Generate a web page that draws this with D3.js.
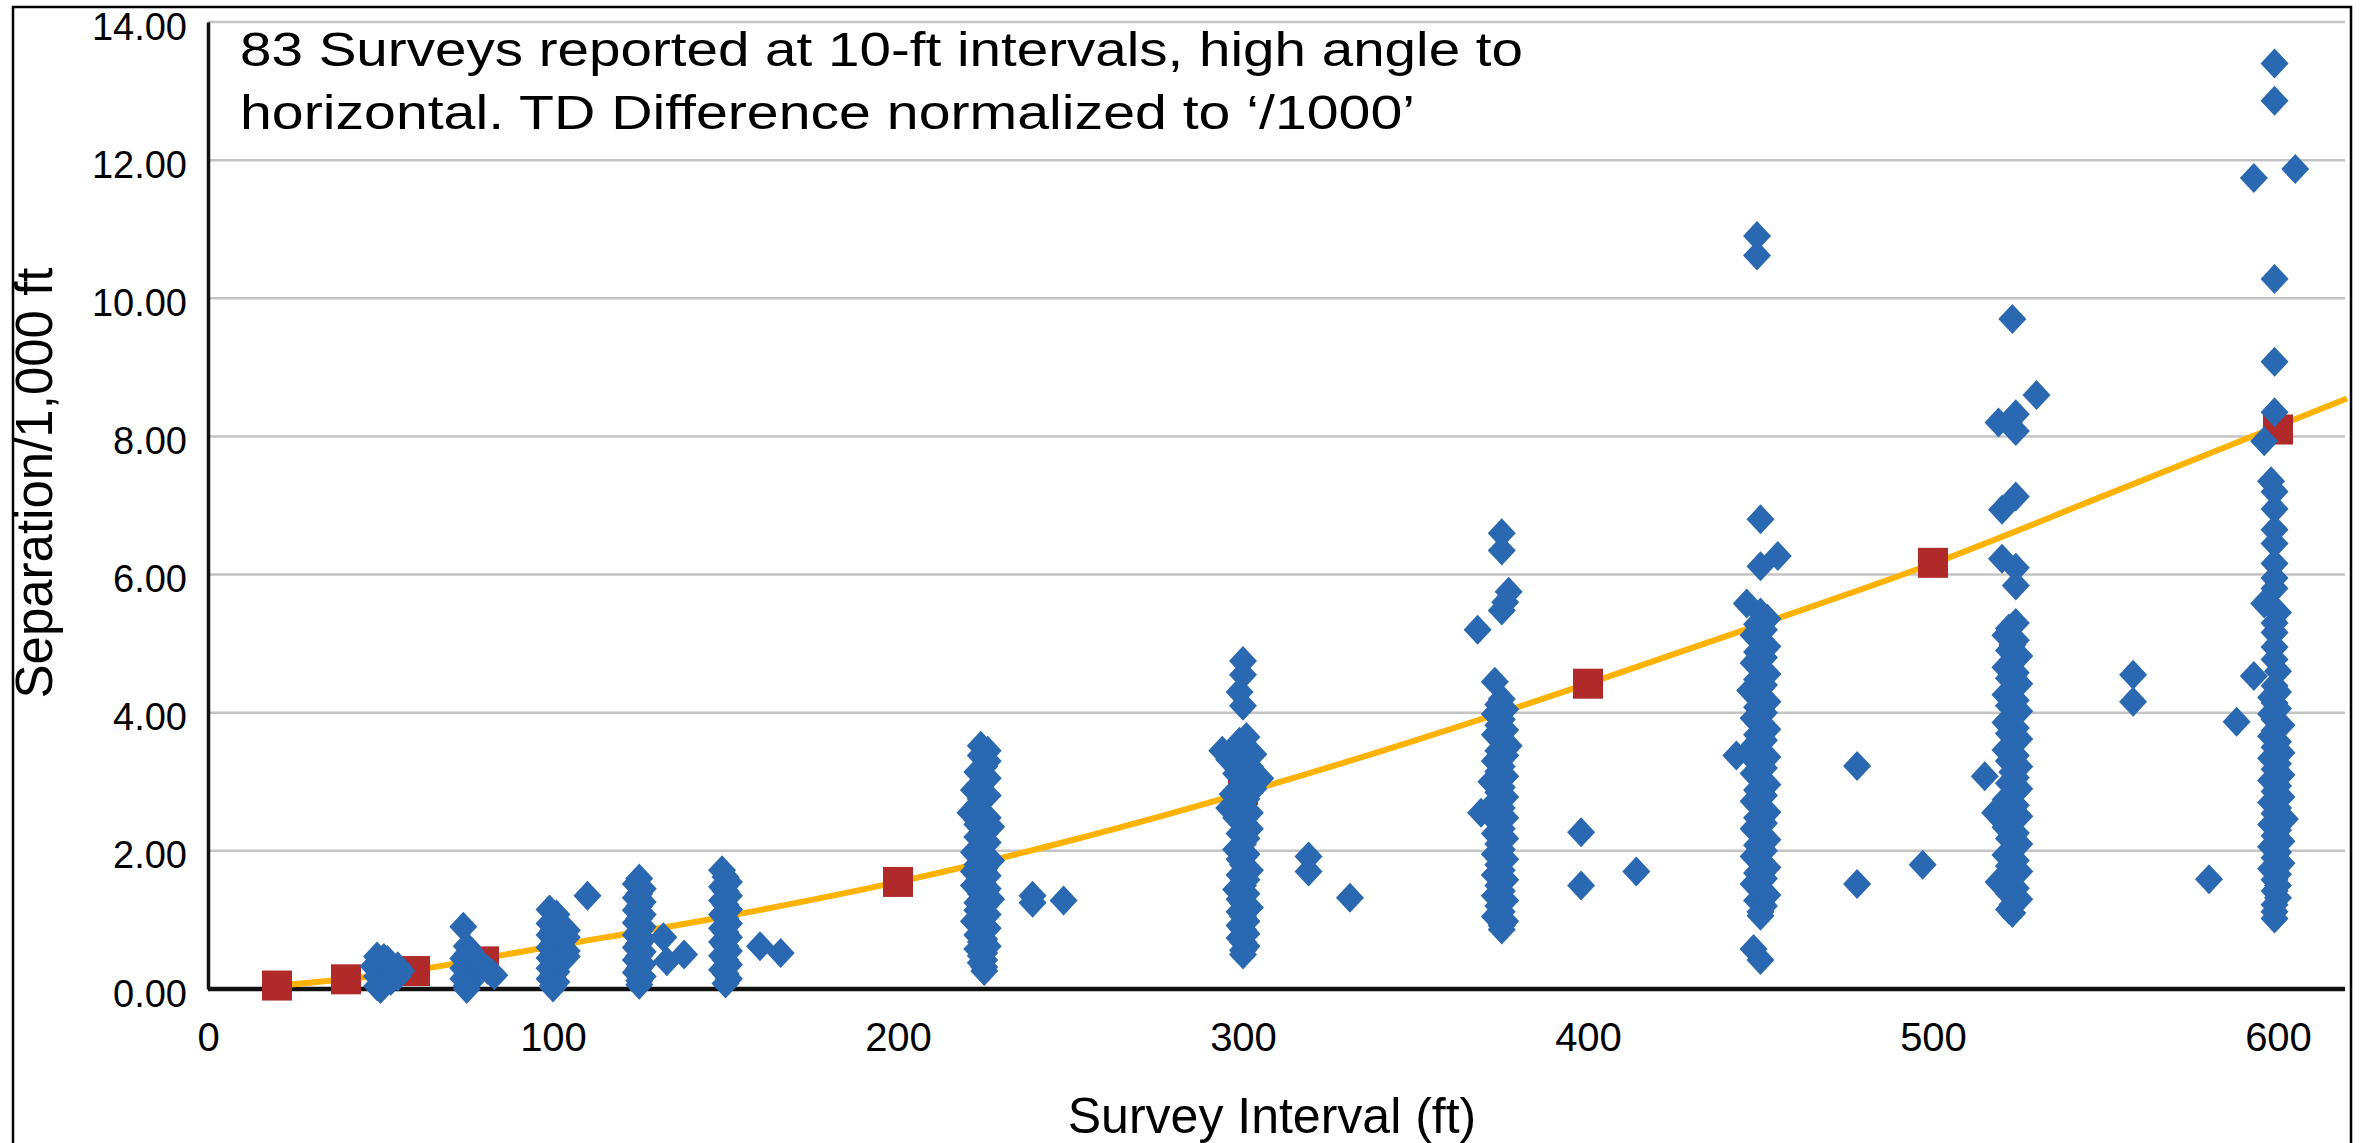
<!DOCTYPE html>
<html>
<head>
<meta charset="utf-8">
<script src="https://cdnjs.cloudflare.com/ajax/libs/d3/7.8.5/d3.min.js"></script>
<style>
  body { margin: 0; background: #fff; }
  text { font-family: "Liberation Sans", Arial, sans-serif; fill: #000; }
</style>
</head>
<body>
<svg id="chart" width="2366" height="1143"></svg>
<script>
// tick labels
var xTicks = [0, 100, 200, 300, 400, 500, 600];
var yTicks = [0, 2, 4, 6, 8, 10, 12, 14];

// survey separations, [interval ft, separation /1000 ft]
var at50 = [[49, 0.47], [51, 0.45], [50, 0.38], [48, 0.33], [51, 0.28], [50, 0.22], [49, 0.18], [51, 0.12], [50, 0.08], [49, 0.04], [50, 0.0], [52, 0.42], [53, 0.36], [53, 0.3], [54, 0.22], [53, 0.12], [55, 0.33], [56, 0.26], [55, 0.18]];
var at75 = [[74, 0.9], [75, 0.62], [76, 0.55], [75, 0.5], [74, 0.44], [76, 0.4], [75, 0.34], [74, 0.3], [76, 0.25], [75, 0.2], [74, 0.15], [76, 0.1], [75, 0.05], [75, 0.0], [77, 0.45], [78, 0.4], [79, 0.36], [80, 0.32], [81, 0.28], [82, 0.24], [83, 0.2]];
var at100 = [[99, 1.15], [101, 1.08], [100, 1.0], [99, 0.95], [101, 0.9], [100, 0.84], [99, 0.78], [101, 0.72], [100, 0.66], [99, 0.6], [101, 0.55], [100, 0.5], [99, 0.45], [101, 0.4], [100, 0.35], [99, 0.3], [101, 0.25], [100, 0.2], [99, 0.15], [101, 0.1], [100, 0.05], [100, 0.02], [104, 0.85], [104, 0.75], [104, 0.55], [104, 0.47], [110, 1.35]];
var at125 = [[125, 1.6], [124, 1.52], [126, 1.45], [125, 1.38], [124, 1.32], [126, 1.26], [125, 1.2], [124, 1.14], [126, 1.08], [125, 1.02], [124, 0.96], [126, 0.9], [125, 0.84], [124, 0.78], [126, 0.72], [125, 0.66], [124, 0.6], [126, 0.54], [125, 0.48], [124, 0.42], [126, 0.36], [125, 0.3], [124, 0.24], [126, 0.18], [125, 0.12], [125, 0.06], [132, 0.75], [133, 0.4], [138, 0.5]];
var at150 = [[149, 1.72], [150, 1.62], [151, 1.55], [149, 1.48], [150, 1.42], [151, 1.35], [149, 1.28], [150, 1.22], [151, 1.15], [149, 1.08], [150, 1.02], [151, 0.95], [149, 0.88], [150, 0.82], [151, 0.75], [149, 0.68], [150, 0.62], [151, 0.55], [149, 0.48], [150, 0.42], [151, 0.35], [149, 0.28], [150, 0.22], [151, 0.15], [150, 0.08], [160, 0.62], [166, 0.52]];
var at225 = [[224, 3.52], [226, 3.45], [224, 3.38], [226, 3.3], [225, 3.22], [223, 3.14], [226, 3.05], [224, 2.97], [222, 2.88], [226, 2.8], [224, 2.75], [223, 2.66], [221, 2.55], [226, 2.48], [224, 2.45], [223, 2.38], [227, 2.35], [225, 2.28], [223, 2.2], [226, 2.12], [224, 2.05], [222, 1.98], [225, 1.92], [227, 1.86], [223, 1.8], [225, 1.74], [222, 1.7], [226, 1.64], [224, 1.58], [222, 1.5], [226, 1.45], [224, 1.38], [227, 1.3], [223, 1.25], [225, 1.2], [223, 1.14], [226, 1.08], [224, 1.02], [222, 0.98], [225, 0.92], [226, 0.88], [224, 0.82], [223, 0.78], [225, 0.72], [224, 0.68], [226, 0.62], [223, 0.58], [225, 0.52], [224, 0.48], [225, 0.42], [224, 0.38], [225, 0.32], [225, 0.26], [239, 1.35], [239, 1.25], [248, 1.28]];
var at300 = [[300, 4.75], [300, 4.55], [299, 4.3], [300, 4.1], [301, 3.65], [299, 3.58], [294, 3.45], [300, 3.5], [303, 3.4], [296, 3.32], [302, 3.22], [305, 3.05], [298, 3.12], [300, 2.98], [303, 2.9], [297, 2.82], [301, 2.75], [296, 2.62], [299, 2.68], [302, 2.55], [298, 2.48], [300, 2.4], [302, 2.32], [299, 2.25], [301, 2.18], [300, 2.1], [298, 2.02], [301, 1.95], [299, 1.88], [300, 1.8], [302, 1.72], [299, 1.65], [301, 1.58], [300, 1.5], [298, 1.44], [301, 1.38], [299, 1.3], [300, 1.24], [302, 1.18], [299, 1.12], [300, 1.05], [301, 0.98], [299, 0.92], [300, 0.86], [301, 0.8], [299, 0.74], [300, 0.68], [301, 0.62], [300, 0.56], [300, 0.5], [319, 1.92], [319, 1.7], [331, 1.32]];
var at375 = [[375, 6.6], [375, 6.35], [377, 5.75], [376, 5.6], [375, 5.48], [368, 5.2], [373, 4.45], [375, 4.2], [374, 4.12], [376, 4.05], [373, 3.98], [375, 3.9], [374, 3.82], [376, 3.75], [373, 3.68], [375, 3.6], [377, 3.52], [374, 3.45], [376, 3.38], [373, 3.3], [375, 3.22], [374, 3.15], [376, 3.08], [372, 3.0], [375, 2.92], [374, 2.85], [376, 2.78], [373, 2.7], [369, 2.55], [375, 2.62], [376, 2.48], [374, 2.4], [375, 2.32], [373, 2.25], [376, 2.18], [374, 2.1], [375, 2.02], [373, 1.95], [376, 1.88], [374, 1.8], [375, 1.72], [373, 1.65], [376, 1.58], [374, 1.5], [375, 1.42], [373, 1.35], [376, 1.28], [374, 1.2], [375, 1.12], [373, 1.05], [376, 0.98], [375, 0.92], [375, 0.86], [398, 2.27], [398, 1.5]];
var at450 = [[449, 10.9], [449, 10.62], [450, 6.8], [455, 6.27], [450, 6.12], [446, 5.58], [450, 5.45], [452, 5.36], [449, 5.28], [451, 5.2], [448, 5.12], [450, 5.04], [452, 4.96], [449, 4.88], [451, 4.8], [448, 4.72], [450, 4.64], [452, 4.56], [449, 4.48], [451, 4.4], [447, 4.32], [450, 4.24], [452, 4.16], [449, 4.08], [451, 4.0], [448, 3.92], [450, 3.84], [452, 3.76], [449, 3.68], [451, 3.6], [448, 3.52], [450, 3.45], [443, 3.38], [452, 3.36], [449, 3.28], [451, 3.2], [448, 3.12], [450, 3.04], [452, 2.96], [449, 2.88], [451, 2.8], [448, 2.72], [450, 2.64], [452, 2.56], [449, 2.48], [451, 2.4], [448, 2.32], [450, 2.24], [452, 2.16], [449, 2.08], [451, 2.0], [448, 1.92], [450, 1.84], [452, 1.76], [449, 1.68], [451, 1.6], [448, 1.52], [450, 1.44], [452, 1.36], [449, 1.28], [451, 1.2], [450, 1.12], [450, 1.06], [448, 0.58], [450, 0.42], [414, 1.7], [478, 3.23], [478, 1.52], [497, 1.8]];
var at525 = [[523, 9.7], [530, 8.6], [524, 8.32], [519, 8.2], [524, 8.08], [524, 7.13], [520, 6.94], [520, 6.23], [524, 6.1], [524, 5.84], [524, 5.3], [522, 5.22], [521, 5.12], [524, 5.05], [523, 4.98], [522, 4.9], [525, 4.82], [523, 4.74], [521, 4.66], [524, 4.58], [522, 4.5], [525, 4.42], [523, 4.34], [521, 4.26], [524, 4.18], [522, 4.1], [525, 4.02], [523, 3.94], [521, 3.86], [524, 3.78], [522, 3.7], [525, 3.62], [523, 3.54], [521, 3.46], [524, 3.38], [522, 3.3], [525, 3.22], [523, 3.14], [515, 3.08], [524, 3.06], [522, 2.98], [525, 2.9], [523, 2.82], [521, 2.74], [524, 2.66], [518, 2.55], [522, 2.58], [525, 2.5], [523, 2.42], [521, 2.34], [524, 2.26], [522, 2.18], [525, 2.1], [523, 2.02], [521, 1.94], [524, 1.86], [522, 1.78], [525, 1.7], [523, 1.62], [519, 1.55], [521, 1.54], [524, 1.46], [522, 1.38], [525, 1.3], [523, 1.22], [522, 1.15], [523, 1.1], [558, 4.55], [558, 4.16], [580, 1.59], [588, 3.87]];
var at600 = [[599, 13.4], [599, 12.86], [593, 11.74], [605, 11.87], [599, 10.28], [599, 9.08], [599, 8.35], [596, 7.93], [598, 7.35], [599, 7.2], [599, 6.95], [599, 6.65], [599, 6.45], [599, 6.16], [599, 5.95], [599, 5.8], [596, 5.58], [600, 5.45], [599, 5.3], [599, 5.16], [599, 4.95], [599, 4.77], [600, 4.6], [593, 4.53], [599, 4.39], [600, 4.3], [598, 4.22], [599, 4.14], [600, 4.06], [598, 3.98], [599, 3.9], [601, 3.82], [599, 3.74], [598, 3.66], [600, 3.58], [599, 3.5], [601, 3.42], [598, 3.34], [600, 3.26], [599, 3.18], [601, 3.1], [598, 3.02], [600, 2.94], [599, 2.86], [601, 2.78], [598, 2.7], [600, 2.62], [599, 2.54], [602, 2.46], [598, 2.38], [600, 2.3], [599, 2.22], [601, 2.14], [598, 2.06], [600, 1.98], [599, 1.9], [601, 1.82], [598, 1.74], [600, 1.66], [599, 1.58], [600, 1.5], [599, 1.42], [600, 1.32], [599, 1.22], [599, 1.12], [599, 1.02]];

// red squares (averages per interval)
var avgX = [20, 40, 60, 80, 200, 300, 400, 500, 600];
var avgY = [0.05, 0.14, 0.26, 0.4, 1.55, 2.88, 4.42, 6.17, 8.1];

// orange trend line, read at these intervals
var trendX = [20, 50, 100, 150, 200, 250, 300, 350, 400, 450, 500, 550, 600, 620];
var trendY = [0.05, 0.2, 0.62, 1.05, 1.55, 2.15, 2.84, 3.6, 4.42, 5.28, 6.16, 7.15, 8.15, 8.55];

var noteLines = ["83 Surveys reported at 10-ft intervals, high angle to",
                 "horizontal. TD Difference normalized to \u2018/1000\u2019"];

var svg = d3.select('#chart');

var x = d3.scaleLinear().domain([0, 620]).range([208, 2347]);
var y = d3.scaleLinear().domain([0, 14]).range([989, 22]);

// outer frame
svg.append('rect')
    .attr('x', 13).attr('y', 7)
    .attr('width', 2338).attr('height', 1160)
    .attr('fill', 'none').attr('stroke', '#000').attr('stroke-width', 2.5);

// gridlines
svg.append('g')
    .selectAll('line')
    .data(yTicks.slice(1))
    .enter()
    .append('line')
    .attr('x1', 208).attr('x2', 2345)
    .attr('y1', function (d) { return y(d); })
    .attr('y2', function (d) { return y(d); })
    .attr('stroke', '#c4c4c4')
    .attr('stroke-width', 2.5);

// y axis
var yAxis = svg.append('g')
    .attr('transform', 'translate(208,0)')
    .call(d3.axisLeft(y).tickValues(yTicks).tickFormat(d3.format('.2f')).tickSize(0).tickPadding(21));
yAxis.select('.domain').attr('stroke', '#111').attr('stroke-width', 3.5);
yAxis.selectAll('text')
    .style('font-family', '"Liberation Sans", Arial, sans-serif')
    .style('font-size', '38px')
    .attr('fill', '#111')
    .attr('dy', '0.45em');

// x axis
var xAxis = svg.append('g')
    .attr('transform', 'translate(0,' + y(0) + ')')
    .call(d3.axisBottom(x).tickValues(xTicks).tickSize(0).tickPadding(34));
xAxis.select('.domain').attr('stroke', '#111').attr('stroke-width', 4.5)
    .attr('d', 'M208,0H2345');
xAxis.selectAll('text')
    .style('font-family', '"Liberation Sans", Arial, sans-serif')
    .style('font-size', '40px')
    .attr('fill', '#111');
yAxis.raise();

// trend line
var trend = trendX.map(function (d, i) { return [d, trendY[i]]; });
svg.append('path')
    .datum(trend)
    .attr('fill', 'none')
    .attr('stroke', '#ffb300')
    .attr('stroke-width', 6)
    .attr('d', d3.line()
        .x(function (d) { return x(d[0]); })
        .y(function (d) { return y(d[1]); })
        .curve(d3.curveMonotoneX));

// averages
svg.append('g')
    .selectAll('rect')
    .data(avgX)
    .enter()
    .append('rect')
    .attr('x', function (d) { return x(d) - 15; })
    .attr('y', function (d, i) { return y(avgY[i]) - 15; })
    .attr('width', 30).attr('height', 30)
    .attr('fill', '#b12a2a');

// surveys
var surveys = [].concat(at50, at75, at100, at125, at150, at225, at300, at375, at450, at525, at600);
svg.append('g')
    .selectAll('path')
    .data(surveys)
    .enter()
    .append('path')
    .attr('d', 'M0,-15L14,0L0,15L-14,0Z')
    .attr('transform', function (d) { return 'translate(' + x(d[0]) + ',' + y(d[1]) + ')'; })
    .attr('fill', '#2a68b1');

// note
svg.append('g')
    .selectAll('text')
    .data(noteLines)
    .enter()
    .append('text')
    .attr('x', 240)
    .attr('y', function (d, i) { return 66 + i * 63; })
    .style('font-size', '49px')
    .attr('textLength', function (d, i) { return i == 0 ? 1283 : 1175; })
    .attr('lengthAdjust', 'spacingAndGlyphs')
    .text(function (d) { return d; });

// axis titles
svg.append('text')
    .attr('x', 1272).attr('y', 1133)
    .attr('text-anchor', 'middle')
    .style('font-size', '50px')
    .attr('fill', '#111')
    .text('Survey Interval (ft)');

svg.append('text')
    .attr('transform', 'translate(52,483) rotate(-90)')
    .attr('text-anchor', 'middle')
    .style('font-size', '51px')
    .attr('fill', '#111')
    .text('Separation/1,000 ft');
</script>
</body>
</html>
